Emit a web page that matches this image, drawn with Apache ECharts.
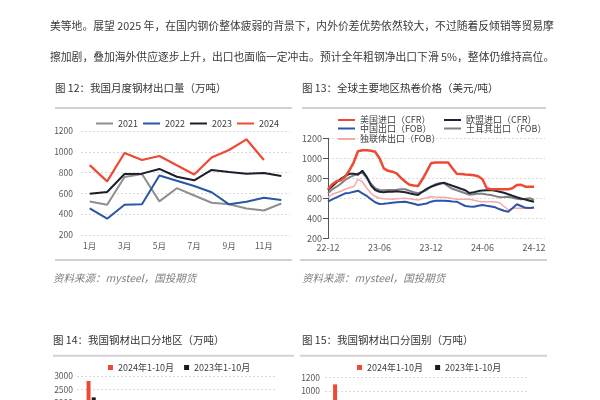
<!DOCTYPE html>
<html><head><meta charset="utf-8">
<script src="https://cdn.jsdelivr.net/npm/echarts@6/dist/echarts.min.js"></script>
<style>html,body{margin:0;padding:0;background:#fff}#c{width:600px;height:400px}</style>
</head><body><div id="c"></div>
<script>
// ---- Fig 12: monthly steel exports (10k t)
const months12 = ['1月','2月','3月','4月','5月','6月','7月','8月','9月','10月','11月','12月'];
const y2021 = [523,490,758,787,523,650,580,510,496,455,436,503];
const y2022 = [455,357,490,495,772,722,671,611,495,520,559,537];
const y2023 = [597,613,787,790,835,760,726,826,806,790,797,768];
const y2024 = [872,716,988,921,960,870,782,945,1017,1120,921,null];

// ---- Fig 13: global HRC prices (USD/t), half-monthly
const dates13 = ['2022-12-01','2022-12-16','2023-01-01','2023-01-16','2023-02-01','2023-02-16','2023-03-01','2023-03-16','2023-04-01','2023-04-16','2023-05-01','2023-05-16','2023-06-01','2023-06-16','2023-07-01','2023-07-16','2023-08-01','2023-08-16','2023-09-01','2023-09-16','2023-10-01','2023-10-16','2023-11-01','2023-11-16','2023-12-01','2023-12-16','2024-01-01','2024-01-16','2024-02-01','2024-02-16','2024-03-01','2024-03-16','2024-04-01','2024-04-16','2024-05-01','2024-05-16','2024-06-01','2024-06-16','2024-07-01','2024-07-16','2024-08-01','2024-08-16','2024-09-01','2024-09-16','2024-10-01','2024-10-16','2024-11-01','2024-11-16','2024-12-01'];
const usCFR = [690,740,770,780,816,880,960,1070,1080,1080,1075,1066,1000,900,875,866,850,805,766,735,728,723,790,866,950,957,957,957,957,900,845,843,838,835,830,820,790,700,690,690,690,690,690,700,733,735,716,716,716];
const euCFR = [683,720,760,795,823,845,845,835,876,816,730,683,666,660,665,666,670,666,660,650,640,633,665,695,716,730,745,756,740,725,710,695,680,652,660,672,678,680,682,675,666,655,640,625,610,598,588,576,566];
const cnFOB = [566,590,610,630,650,654,665,676,650,625,590,560,543,545,550,556,560,563,566,555,545,533,540,548,566,575,576,576,572,568,566,545,523,518,516,525,533,525,518,510,490,475,466,500,540,523,505,503,507];
const trFOB = [650,690,716,745,783,810,830,850,856,810,745,700,683,680,683,683,686,690,690,675,660,650,665,683,716,740,750,750,720,695,680,666,650,635,640,648,645,638,633,622,610,612,616,605,595,590,595,600,583];
const cisFOB = [610,640,656,670,690,705,716,790,766,705,650,620,600,595,592,590,595,598,600,595,588,583,595,605,616,612,610,610,605,598,590,590,590,590,580,570,566,566,566,562,556,520,483,500,500,500,500,500,500];
const ticks13 = ['22-12','23-06','23-12','24-06','24-12'];

// ---- Fig 14: exports by region (10k t) - only first bars visible
const regions14 = ['东南亚','中东','南美','非洲','东亚','南亚','欧洲'];
const r2024 = [2812,1400,1150,1050,900,750,600];
const r2023 = [2200,1200,900,850,950,550,650];

// ---- Fig 15: exports by country (10k t)
const countries15 = ['越南','韩国','印度','泰国','土耳其','印尼','菲律宾','巴西'];
const c2024 = [1100,780,700,620,560,520,500,480];
const c2023 = [820,720,520,560,600,430,480,430];

const FONT = '"Noto Sans CJK SC", "Noto Sans", sans-serif';
const plain = (v) => String(v);
const lab = (s) => ({fontSize:s, color:'#595959', fontFamily:FONT});

// month offset from 2022-12 for a 'YYYY-MM-DD' date
function monthOffset(s){ const p=s.split('-'); return ((+p[0])-2022)*12 + ((+p[1])-12) + ((+p[2])-1)/30.5; }
const x13 = dates13.map(monthOffset);
const tickOffsets = ticks13.map(t=>{const p=t.split('-'); return ((2000+(+p[0]))-2022)*12 + ((+p[1])-12);});
function offsetLabel(v){
  const i = tickOffsets.findIndex(o=>Math.abs(o-v)<1e-6);
  return i>=0 ? ticks13[i] : '';
}

const chart = echarts.init(document.getElementById('c'), null, {renderer:'canvas'});

function txt(x,y,t,size,fill,style){
  return {type:'text', x:x, y:y, silent:true, style:{text:t, fill:fill, font:(style||'')+' '+size+'px '+FONT, verticalAlign:'middle', align:'left'}};
}
function hl(x1,x2,y){
  return {type:'line', silent:true, shape:{x1:x1,y1:y,x2:x2,y2:y}, style:{stroke:'#d2d2d2', lineWidth:2}};
}

const dashed = {show:true, lineStyle:{color:'#d9d9d9', type:[2,2], width:1}};
const lineSeries = (name,data,color,w,xi,yi,z) => ({name, type:'line', xAxisIndex:xi, yAxisIndex:yi, data, symbol:'none', showSymbol:false, z:z||2,
  lineStyle:{color, width:w}, itemStyle:{color}, animation:false});

const legendLine = (names, left, top) => ({data:names, left, top, icon:'rect', itemWidth:17, itemHeight:2, itemGap:5, padding:0,
  textStyle:{fontSize:9, color:'#404040', fontFamily:FONT}, selectedMode:false});

const gridBase = {outerBoundsMode:'none', containLabel:false};

const option = {
  animation:false,
  backgroundColor:'#fff',
  graphic:[
    txt(50,26,'美等地。展望 2025 年，在国内钢价整体疲弱的背景下，内外价差优势依然较大，不过随着反倾销等贸易摩',10.8,'#3a3a3a'),
    txt(50,57,'擦加剧，叠加海外供应逐步上升，出口也面临一定冲击。预计全年粗钢净出口下滑 5%，整体仍维持高位。',10.8,'#3a3a3a'),
    txt(55,88,'图 12：我国月度钢材出口量（万吨）',10.5,'#333'),
    txt(302,88,'图 13：全球主要地区热卷价格（美元/吨）',10.5,'#333'),
    hl(55,292,108), hl(302,546,108),
    hl(55,292,260), hl(300,547,260),
    txt(53,278,'资料来源：mysteel，国投期货',10.5,'#7f7f7f','italic'),
    txt(302,278,'资料来源：mysteel，国投期货',10.5,'#7f7f7f','italic'),
    txt(53,340,'图 14：我国钢材出口分地区（万吨）',10.5,'#333'),
    txt(302,340,'图 15：我国钢材出口分国别（万吨）',10.5,'#333'),
    hl(53,294,355.7), hl(300,547,355.7)
  ],
  legend:[
    legendLine(['2021','2022','2023','2024'], 96, 119),
    legendLine(['美国进口（CFR）'], 338, 115.5),
    legendLine(['欧盟进口（CFR）'], 444, 115.5),
    legendLine(['中国出口（FOB）'], 338, 124),
    legendLine(['土耳其出口（FOB）'], 444, 124),
    legendLine(['独联体出口（FOB）'], 338, 134.5),
    {data:['2024年1-10月','2023年1-10月'], left:108, top:363, itemWidth:5, itemHeight:5, itemGap:10, padding:0, icon:'rect',
      textStyle:{fontSize:9, color:'#404040', fontFamily:FONT}, selectedMode:false},
    {data:['2024年1-10月 ','2023年1-10月 '], left:357, top:363, itemWidth:5, itemHeight:5, itemGap:10, padding:0, icon:'rect',
      textStyle:{fontSize:9, color:'#404040', fontFamily:FONT}, selectedMode:false}
  ],
  grid:[
    Object.assign({left:81, top:131, width:209, height:104}, gridBase),
    Object.assign({left:328, top:138.3, width:217, height:100}, gridBase),
    Object.assign({left:77, top:376, width:198, height:80}, gridBase),
    Object.assign({left:325, top:377.7, width:203, height:80}, gridBase)
  ],
  xAxis:[
    {type:'category', gridIndex:0, data:months12, boundaryGap:true, axisLine:{show:false}, axisTick:{show:false},
      axisLabel:Object.assign(lab(8.5),{interval:1, margin:7})},
    {type:'value', gridIndex:1, min:0, max:25.28, interval:6, axisLine:{show:false}, axisTick:{show:false}, splitLine:{show:false},
      axisLabel:Object.assign(lab(9),{margin:5, formatter:offsetLabel})},
    {type:'category', gridIndex:2, data:regions14, axisLine:{show:false}, axisTick:{show:false}, axisLabel:lab(9)},
    {type:'category', gridIndex:3, data:countries15, axisLine:{show:false}, axisTick:{show:false}, axisLabel:lab(9)}
  ],
  yAxis:[
    {type:'value', gridIndex:0, min:200, max:1200, interval:200, splitLine:dashed, axisLabel:Object.assign(lab(8.5),{margin:8, formatter:plain})},
    {type:'value', gridIndex:1, min:200, max:1200, interval:200, splitLine:dashed, axisLabel:Object.assign(lab(9),{margin:6, formatter:plain})},
    {type:'value', gridIndex:2, min:0, max:3000, interval:500, splitLine:dashed, axisLabel:Object.assign(lab(8.5),{margin:4, formatter:plain})},
    {type:'value', gridIndex:3, min:0, max:1200, interval:200, splitLine:dashed, axisLabel:Object.assign(lab(8.5),{margin:5, formatter:plain})}
  ],
  series:[
    lineSeries('2021', y2021, '#8f8f8f', 2, 0, 0),
    lineSeries('2022', y2022, '#2757a5', 2, 0, 0),
    lineSeries('2023', y2023, '#1c1c2b', 2, 0, 0),
    lineSeries('2024', y2024, '#ee4a33', 2.2, 0, 0, 3),

    lineSeries('独联体出口（FOB）', x13.map((x,i)=>[x,cisFOB[i]]), '#f5a9a6', 1.5, 1, 1, 2),
    lineSeries('中国出口（FOB）', x13.map((x,i)=>[x,cnFOB[i]]), '#2a55a8', 2, 1, 1, 3),
    lineSeries('土耳其出口（FOB）', x13.map((x,i)=>[x,trFOB[i]]), '#808080', 2, 1, 1, 4),
    lineSeries('欧盟进口（CFR）', x13.map((x,i)=>[x,euCFR[i]]), '#1f2233', 2, 1, 1, 5),
    lineSeries('美国进口（CFR）', x13.map((x,i)=>[x,usCFR[i]]), '#ee4a33', 2.5, 1, 1, 6),

    {name:'2024年1-10月', type:'bar', xAxisIndex:2, yAxisIndex:2, data:r2024, barWidth:4, barGap:'30%', itemStyle:{color:'#ee4a33'}},
    {name:'2023年1-10月', type:'bar', xAxisIndex:2, yAxisIndex:2, data:r2023, barWidth:4, barGap:'30%', itemStyle:{color:'#1a1a1a'}},
    {name:'2024年1-10月 ', type:'bar', xAxisIndex:3, yAxisIndex:3, data:c2024, barWidth:4, barGap:'30%', itemStyle:{color:'#ee4a33'}},
    {name:'2023年1-10月 ', type:'bar', xAxisIndex:3, yAxisIndex:3, data:c2023, barWidth:4, barGap:'30%', itemStyle:{color:'#1a1a1a'}}
  ]
};
chart.setOption(option);
</script>
</body></html>
